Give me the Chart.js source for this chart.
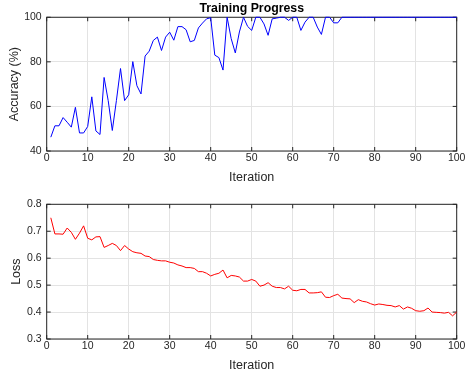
<!DOCTYPE html>
<html><head><meta charset="utf-8">
<script src="https://cdn.jsdelivr.net/npm/chart.js@4.4.1/dist/chart.umd.min.js"></script>
<style>
html,body{margin:0;padding:0;background:#fff;width:467px;height:377px;overflow:hidden;}
canvas{position:absolute;left:0;}
#c1{top:0;}
#c2{top:190px;}
</style></head><body>
<canvas id="c1" width="467" height="190"></canvas>
<canvas id="c2" width="467" height="187"></canvas>
<script>
const iterations = Array.from({length: 100}, (_, i) => i + 1);
const accuracy = [
  46.2, 51.3, 51.3, 55.0, 52.9, 50.7, 59.6, 48.1, 48.1, 51.0,
  64.3, 49.0, 47.4, 73.0, 62.6, 49.2, 62.6, 77.0, 62.6, 65.2,
  80.1, 69.3, 65.6, 82.6, 84.8, 89.6, 91.1, 85.1, 91.1, 93.3,
  89.7, 95.8, 95.8, 94.4, 89.0, 89.6, 95.2, 97.4, 99.3, 99.8,
  83.0, 81.9, 76.3, 100, 90.4, 84.0, 93.4, 100, 95.9, 94.1,
  100, 100, 97.0, 91.9, 99.3, 99.6, 100, 100, 98.6, 100,
  100, 94.1, 97.8, 100, 100, 95.6, 92.3, 100, 100, 97.5,
  97.5, 100, 100, 100, 100, 100, 100, 100, 100, 100,
  100, 100, 100, 100, 100, 100, 100, 100, 100, 100,
  100, 100, 100, 100, 100, 100, 100, 100, 100, 100
];
const loss = [
  0.750, 0.690, 0.690, 0.689, 0.712, 0.696, 0.670, 0.693, 0.720, 0.674,
  0.668, 0.679, 0.680, 0.640, 0.647, 0.655, 0.647, 0.628, 0.647, 0.634,
  0.624, 0.620, 0.618, 0.608, 0.606, 0.595, 0.592, 0.590, 0.590, 0.585,
  0.582, 0.575, 0.571, 0.565, 0.565, 0.562, 0.550, 0.550, 0.544, 0.534,
  0.540, 0.544, 0.556, 0.527, 0.536, 0.534, 0.530, 0.515, 0.515, 0.521,
  0.515, 0.496, 0.500, 0.509, 0.496, 0.491, 0.491, 0.486, 0.496, 0.481,
  0.479, 0.484, 0.484, 0.471, 0.471, 0.472, 0.475, 0.455, 0.454, 0.461,
  0.466, 0.452, 0.450, 0.449, 0.435, 0.446, 0.440, 0.4375, 0.431, 0.426,
  0.430, 0.428, 0.425, 0.424, 0.419, 0.424, 0.411, 0.419, 0.414, 0.405,
  0.403, 0.405, 0.415, 0.400, 0.399, 0.398, 0.396, 0.399, 0.386, 0.400
];
const xRange = [0, 100];
const accRange = [40, 100];
const lossRange = [0.3, 0.8];
const titleText = 'Training Progress';
const xLabel = 'Iteration';
const accLabel = 'Accuracy (%)';
const lossLabel = 'Loss';

const FONT = "'Liberation Sans', Arial, Helvetica, sans-serif";
const TXT = '#262626';
const GRID = '#e3e3e3';
const AXIS = '#262626';

const boxPlugin = {
  id: 'matlabBox',
  beforeDatasetsDraw(chart) {
    const ctx = chart.ctx;
    const a = chart.chartArea;
    const L = a.left, R = a.right, T = a.top, B = a.bottom;
    ctx.save();
    ctx.strokeStyle = AXIS;
    ctx.lineWidth = 1;
    ctx.strokeRect(L, T, R - L, B - T);
    const tl = 4;
    ctx.beginPath();
    const xs = chart.scales.x, ys = chart.scales.y;
    xs.ticks.forEach(t => {
      const px = xs.getPixelForValue(t.value);
      ctx.moveTo(px, B); ctx.lineTo(px, B - tl);
      ctx.moveTo(px, T); ctx.lineTo(px, T + tl);
    });
    ys.ticks.forEach(t => {
      const py = ys.getPixelForValue(t.value);
      ctx.moveTo(L, py); ctx.lineTo(L + tl, py);
      ctx.moveTo(R, py); ctx.lineTo(R - tl, py);
    });
    ctx.stroke();
    ctx.restore();
  }
};

function makeChart(id, values, range, step, color, yLabel, opts) {
  return new Chart(document.getElementById(id), {
    type: 'line',
    data: {
      datasets: [{
        data: iterations.map((it, k) => ({x: it, y: values[k]})),
        borderColor: color,
        borderWidth: 1,
        pointRadius: 0,
        tension: 0,
        fill: false,
        clip: 2
      }]
    },
    options: {
      responsive: false,
      animation: false,
      devicePixelRatio: 1,
      layout: {padding: {left: 0, right: 10.3, top: opts.padTop, bottom: 0}},
      plugins: {
        legend: {display: false},
        tooltip: {enabled: false},
        title: {
          display: opts.showTitle,
          text: titleText,
          fullSize: false,
          color: '#000',
          font: {family: FONT, size: 12.3, weight: 'bold', lineHeight: 1.2},
          padding: {top: 1, bottom: 1.5}
        }
      },
      scales: {
        x: {
          type: 'linear',
          min: xRange[0], max: xRange[1],
          ticks: {stepSize: 10, color: TXT, font: {family: FONT, size: 10.5}, padding: 1, maxRotation: 0, autoSkip: false},
          grid: {color: GRID, drawTicks: false},
          border: {display: false},
          title: {display: true, text: xLabel, color: TXT, font: {family: FONT, size: 12.5}, padding: {top: 0, bottom: opts.xTitlePad}},
          afterFit(s) { s.height = opts.xHeight; }
        },
        y: {
          type: 'linear',
          min: range[0], max: range[1],
          ticks: {stepSize: step, color: TXT, font: {family: FONT, size: 10.5}, padding: 5,
            callback: v => step < 1 ? Number(v).toFixed(1) : String(v)},
          grid: {color: GRID, drawTicks: false},
          border: {display: false},
          title: {display: true, text: yLabel, color: TXT, font: {family: FONT, size: 12.5}, padding: {top: opts.yTitlePad, bottom: 0}},
          afterFit(s) { s.width = 46.7; }
        }
      }
    },
    plugins: [boxPlugin]
  });
}

makeChart('c1', accuracy, accRange, 20, '#0000ff', accLabel,
  {padTop: 0, showTitle: true, xHeight: 39, xTitlePad: 4.8, yTitlePad: 7.5});
makeChart('c2', loss, lossRange, 0.1, '#ff0000', lossLabel,
  {padTop: 14.3, showTitle: false, xHeight: 38, xTitlePad: 3.5, yTitlePad: 9.5});
</script>
</body></html>
